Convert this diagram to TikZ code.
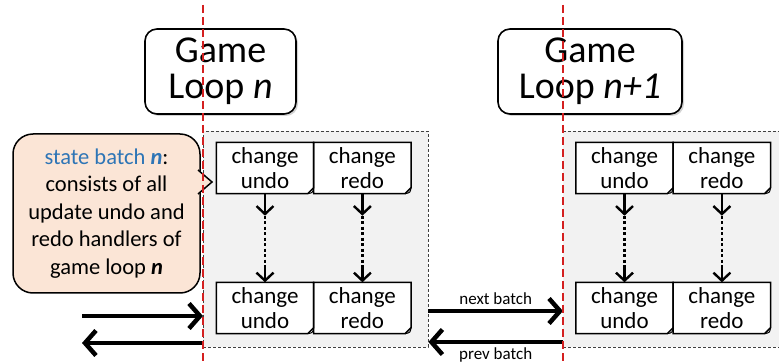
\documentclass[tikz,border=0pt]{standalone}
\usepackage{fontspec}
\setmainfont{Carlito}
\usepackage{tikz}
\usetikzlibrary{positioning}
\usetikzlibrary{arrows.meta,shadows}
\definecolor{peach}{HTML}{FBE5D6}
\definecolor{batchblue}{HTML}{2E75B6}
\definecolor{cutred}{HTML}{D42020}
\definecolor{batchgray}{HTML}{F2F2F2}
\tikzset{
  loopbox/.style={draw,line width=1.6pt,rounded corners=12pt,fill=white,minimum height=85pt,
    align=center,inner sep=0pt,font=\fontsize{38}{36}\selectfont,
    drop shadow={opacity=0.35,shadow xshift=2pt,shadow yshift=-2pt}},
  cellbox/.style={fill=white,minimum width=97pt,minimum height=51pt,inner sep=0pt,
    align=center,font=\fontsize{23}{25}\selectfont},
  cellline/.style={line width=1.5pt,line join=miter},
  batchbox/.style={fill=batchgray,draw=black!75,line width=0.8pt,dash pattern=on 3pt off 2pt},
  bubble/.style={draw,line width=1.5pt,fill=peach,rounded corners=20pt,align=center,
    font=\fontsize{22.5}{27.5}\selectfont},
  bigarrow/.style={line width=4.5pt,-{Straight Barb[length=11pt,width=25pt]}},
  smallarrow/.style={line width=2.4pt,-{Straight Barb[length=8pt,width=17pt]}},
  dotline/.style={line width=2.4pt,dash pattern=on 3pt off 2.5pt},
  cutline/.style={cutred,line width=1.8pt,dash pattern=on 8pt off 4pt}
}
\begin{document}
\begin{tikzpicture}[x=1pt,y=-1pt]
\useasboundingbox (0,0) rectangle (779,363);
% batches
\node[batchbox,minimum width=225pt,minimum height=216pt] (b1) at (315.5,239) {};
\fill[batchgray] (563,131) rectangle (779,347);
\draw[batchbox,fill=none] (563,131) -- (779,131) (563,347) -- (779,347);
% game loops
\node[loopbox,minimum width=151pt] (g1) at (220.5,71.5) {Game\\Loop \textit{n}};
\node[loopbox,minimum width=184pt] (g2) at (590,71.5) {Game\\Loop \textit{n+1}};
% changes
\node[cellbox] (u1) at (265,168) {change\\undo};
\node[cellbox,right=0pt of u1] (r1) {change\\redo};
\node[cellbox] (u2) at (265,308) {change\\undo};
\node[cellbox,right=0pt of u2] (r2) {change\\redo};
\node[cellbox] (u3) at (624.5,168) {change\\undo};
\node[cellbox,right=0pt of u3] (r3) {change\\redo};
\node[cellbox] (u4) at (624.5,308) {change\\undo};
\node[cellbox,right=0pt of u4] (r4) {change\\redo};
\foreach \c in {u1,r1,u2,r2,u3,r3,u4,r4}{
  \fill[batchgray] (\c.south east) -- ([yshift=6pt]\c.south east) -- ([xshift=-6pt]\c.south east) -- cycle;
  \draw[cellline] (\c.north west) -- (\c.north east) -- ([yshift=6pt]\c.south east)
    -- ([xshift=-6pt]\c.south east) -- (\c.south west) -- cycle;
  \draw[line width=1pt] ([xshift=-6pt]\c.south east) .. controls ([xshift=-1pt,yshift=1pt]\c.south east) .. ([yshift=6pt]\c.south east);
}
\foreach \a/\b in {u1/u2,r1/r2,u3/u4,r3/r4}{
  \draw[smallarrow] (\a.south) -- ++(0,22) coordinate (d1);
  \draw[dotline] (d1) -- ++(0,50) coordinate (d2);
  \draw[smallarrow] (d2) -- (\b.north);
}
% state batch note
\node[bubble,minimum width=187pt,minimum height=159pt,inner sep=0pt] (sb) at (106.5,213.5)
  {\textcolor{batchblue}{state batch \textbf{\textit{n}}}:\\consists of all\\update undo and\\redo handlers of\\game loop \textbf{\textit{n}}};
\draw[line width=1.5pt,fill=peach] (198,170) -- (212,182) -- (198,194);
% arrows
\coordinate (pin) at (82,316);
\coordinate (cin) at (203,316);
\coordinate (pout) at (82,343);
\coordinate (cout) at (203,343);
\coordinate (cnext) at (563,311);
\coordinate (cprev) at (563,342);
\draw[bigarrow] (pin) -- (cin);
\draw[bigarrow] (cout) -- (pout);
\draw[bigarrow] (b1.east |- cnext) -- node[above=1pt,font=\fontsize{17}{20}\selectfont] {next batch} (cnext);
\draw[bigarrow] (cprev) -- node[below=0pt,font=\fontsize{17}{20}\selectfont] {prev batch} (b1.east |- cprev);
% cuts
\draw[cutline] (203,5) -- (203,363);
\draw[cutline] (563,5) -- (563,363);
\end{tikzpicture}
\end{document}
